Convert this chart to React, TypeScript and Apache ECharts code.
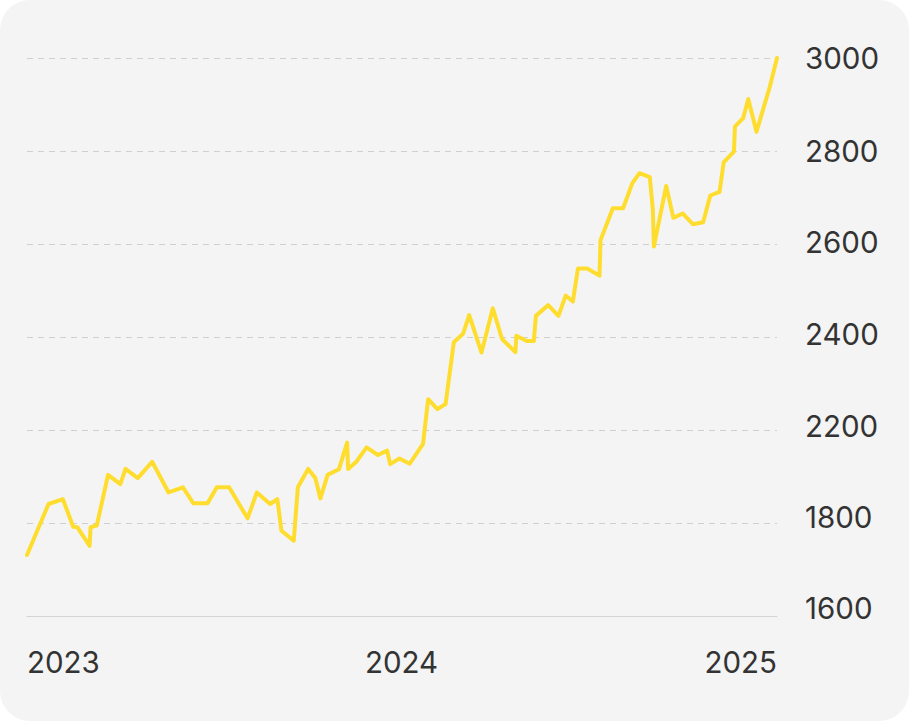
import React, { useEffect, useRef } from "react";
import * as echarts from "echarts";

const dates: string[] = [
  "2023-01-01", "2023-01-22", "2023-02-05", "2023-02-15", "2023-02-19", "2023-03-03", "2023-03-04", "2023-03-10",
  "2023-03-21", "2023-04-02", "2023-04-07", "2023-04-19", "2023-05-03", "2023-05-19", "2023-06-02", "2023-06-12",
  "2023-06-26", "2023-07-05", "2023-07-17", "2023-08-04", "2023-08-13", "2023-08-26", "2023-09-02", "2023-09-06",
  "2023-09-18", "2023-09-22", "2023-10-02", "2023-10-09", "2023-10-14", "2023-10-21", "2023-11-01", "2023-11-09",
  "2023-11-10", "2023-11-18", "2023-11-28", "2023-12-09", "2023-12-18", "2023-12-21", "2023-12-30", "2024-01-09",
  "2024-01-22", "2024-01-27", "2024-02-05", "2024-02-13", "2024-02-21", "2024-03-01", "2024-03-07", "2024-03-19",
  "2024-03-30", "2024-04-08", "2024-04-21", "2024-04-22", "2024-05-02", "2024-05-09", "2024-05-11", "2024-05-23",
  "2024-06-02", "2024-06-09", "2024-06-16", "2024-06-21", "2024-06-30", "2024-07-12", "2024-07-13", "2024-07-25",
  "2024-08-04", "2024-08-13", "2024-08-20", "2024-08-30", "2024-09-02", "2024-09-03", "2024-09-15", "2024-09-22",
  "2024-10-01", "2024-10-11", "2024-10-21", "2024-10-28", "2024-11-06", "2024-11-10", "2024-11-20", "2024-11-21",
  "2024-11-29", "2024-12-04", "2024-12-12", "2024-12-25", "2025-01-01",
];

const values: number[] = [
  1753, 1881, 1893, 1824, 1823, 1776, 1823, 1827,
  1954, 1931, 1969, 1946, 1987, 1910, 1923, 1883,
  1883, 1923, 1923, 1845, 1910, 1881, 1893, 1814,
  1789, 1923, 1969, 1946, 1895, 1954, 1968, 2035,
  1969, 1987, 2023, 2004, 2015, 1981, 1995, 1982,
  2032, 2144, 2119, 2132, 2287, 2308, 2355, 2261,
  2372, 2295, 2262, 2303, 2290, 2290, 2353, 2380,
  2353, 2404, 2389, 2472, 2472, 2454, 2543, 2623,
  2623, 2686, 2711, 2701, 2619, 2527, 2679, 2599,
  2610, 2583, 2588, 2655, 2664, 2738, 2765, 2828,
  2849, 2897, 2815, 2928, 3000,
];

const yTickLabels: string[] = ["1600", "1800", "2200", "2400", "2600", "2800", "3000"];
const yearLabels: string[] = ["2023", "2024", "2025"];

const Y_MIN = 1600;
const Y_MAX = 3000;

// small upward nudges of the y labels (px), bottom to top, as in the reference
const labelLift = [8.5, 6.5, 4.5, 3.5, 2, 0.5, 0];

function toTime(d: string): number {
  const [y, m, day] = d.split("-").map(Number);
  return Date.UTC(y, m - 1, day);
}

export default function App() {
  const ref = useRef<HTMLDivElement>(null);

  useEffect(() => {
    document.body.style.margin = "0";
    document.body.style.background = "#ffffff";
    if (!ref.current) return;
    const chart = echarts.init(ref.current, undefined, { renderer: "svg" });
    const step = (Y_MAX - Y_MIN) / (yTickLabels.length - 1);
    const yearTimes = yearLabels.map((y) => Date.UTC(Number(y), 0, 1));
    const font = "Inter, 'Noto Sans', sans-serif";
    const fontSize = 29.5;
    const textColor = "#333333";

    const rich: Record<string, any> = {};
    labelLift.forEach((lift, i) => {
      rich["t" + i] = {
        color: textColor,
        fontSize,
        fontFamily: font,
        padding: [0, 0, lift * 2, 0],
      };
    });

    chart.setOption({
      animation: false,
      backgroundColor: "transparent",
      grid: { left: 27, right: 132, top: 58, bottom: 105, containLabel: false },
      xAxis: {
        type: "value",
        min: yearTimes[0],
        max: yearTimes[yearTimes.length - 1],
        axisLine: { show: true, lineStyle: { color: "#d4d4d4", width: 1 } },
        axisTick: { show: false },
        splitLine: { show: false },
        axisLabel: {
          customValues: yearTimes,
          formatter: (v: number) => String(new Date(v).getUTCFullYear()),
          color: textColor,
          fontSize,
          fontFamily: font,
          margin: 31,
          alignMinLabel: "left",
          alignMaxLabel: "right",
          showMinLabel: true,
          showMaxLabel: true,
        },
      },
      yAxis: {
        type: "value",
        position: "right",
        min: Y_MIN,
        max: Y_MAX,
        interval: step,
        axisLine: { show: false },
        axisTick: { show: false },
        splitLine: { show: true, lineStyle: { color: "#cfcfcf", type: [6, 5], width: 1 } },
        axisLabel: {
          formatter: (v: number) => {
            const i = Math.round((v - Y_MIN) / step);
            const t = yTickLabels[i];
            return t === undefined ? "" : "{t" + i + "|" + t + "}";
          },
          rich,
          color: textColor,
          fontSize,
          fontFamily: font,
          margin: 28,
        },
      },
      series: [
        {
          type: "line",
          data: dates.map((d, i) => [toTime(d), values[i]]),
          showSymbol: false,
          symbol: "none",
          lineStyle: { color: "#FFDD2E", width: 4, join: "round", cap: "round" },
          itemStyle: { color: "#FFDD2E" },
        },
      ],
    });
    return () => chart.dispose();
  }, []);

  return (
    <div
      style={{
        width: 909,
        height: 721,
        background: "#f4f4f4",
        borderRadius: 30,
        overflow: "hidden",
      }}
    >
      <div ref={ref} style={{ width: 909, height: 721 }} />
    </div>
  );
}
